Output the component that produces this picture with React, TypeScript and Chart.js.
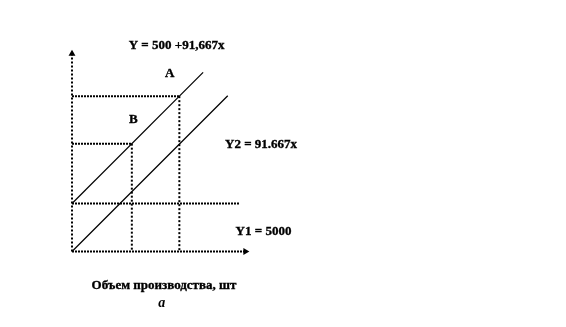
import React, { useEffect, useRef } from "react";
import { Chart, registerables } from "chart.js";

Chart.register(...registerables);

// ---- data ----
const fixedCost = 5000; // Y1
const unitCost = 91.667; // Y2 slope
const pointNames = ["B", "A"];
const pointVolumes = [68, 122];
const pointCosts = [11233, 16183];
const totalLineX = [0, 149];
const totalLineY = [5000, 18658];
const variableLineX = [0, 177];
const variableLineY = [0, 16225];
const fixedLineX = [0, 190];
const axisXEnd = 197;
const axisYEnd = 20600;
const xRange = [0, 210];
const yRange = [0, 22000];

// text labels (data coordinates)
const labelTexts = [
  "Y = 500 +91,667x",
  "A",
  "B",
  "Y2 = 91.667x",
  "Y1 = 5000",
  "Объем производства, шт",
  "а",
];
const labelX = [118.8, 111, 69.7, 214.8, 217.6, 104.5, 102];
const labelY = [21406, 18562, 13698, 11094, 2062, -3594, -5365];
const labelItalic = [false, false, false, false, false, false, true];

const BLACK = "#000000";

const labelsPlugin = {
  id: "labelsPlugin",
  afterDatasetsDraw(chart: any) {
    const { ctx, scales } = chart;
    ctx.save();
    ctx.fillStyle = BLACK;
    ctx.strokeStyle = BLACK;
    ctx.lineWidth = 0.35;
    ctx.textAlign = "center";
    ctx.textBaseline = "middle";
    labelTexts.forEach((t, i) => {
      ctx.font = labelItalic[i]
        ? 'italic bold 14px "Liberation Serif"'
        : 'bold 13px "Liberation Serif"';
      const px = scales.x.getPixelForValue(labelX[i]);
      const py = scales.y.getPixelForValue(labelY[i]);
      ctx.fillText(t, px, py);
      if (!labelItalic[i]) ctx.strokeText(t, px, py);
    });
    ctx.restore();
  },
};

export default function App() {
  const ref = useRef<HTMLCanvasElement | null>(null);
  useEffect(() => {
    if (!ref.current) return;
    const pts = (xs: number[], ys: number[]) => xs.map((x, i) => ({ x, y: ys[i] }));
    const base = {
      borderColor: BLACK,
      backgroundColor: BLACK,
      pointRadius: 0,
      fill: false,
      tension: 0,
      clip: false as any,
    };
    const datasets: any[] = [
      {
        ...base,
        label: "axisY",
        data: pts([0, 0], [0, axisYEnd]),
        borderWidth: 2,
        borderDash: [2, 2],
        pointRadius: [0, 4],
        pointStyle: "triangle",
        pointBorderWidth: 0,
      },
      {
        ...base,
        label: "axisX",
        data: pts([0, axisXEnd], [0, 0]),
        borderWidth: 2,
        borderDash: [2, 1],
        pointRadius: [0, 4],
        pointStyle: "triangle",
        pointRotation: 90,
        pointBorderWidth: 0,
      },
      {
        ...base,
        label: "Y1",
        data: pts(fixedLineX, [fixedCost, fixedCost]),
        borderWidth: 2,
        borderDash: [2, 1],
      },
      {
        ...base,
        label: "Y",
        data: pts(totalLineX, totalLineY),
        borderWidth: 1.2,
      },
      {
        ...base,
        label: "Y2",
        data: pts(variableLineX, variableLineY),
        borderWidth: 1.2,
      },
    ];
    pointVolumes.forEach((v, i) => {
      datasets.push({
        ...base,
        label: pointNames[i] + "-h",
        data: pts([0, v], [pointCosts[i], pointCosts[i]]),
        borderWidth: 2,
        borderDash: [2, 1],
      });
      datasets.push({
        ...base,
        label: pointNames[i] + "-v",
        data: pts([v, v], [pointCosts[i], 0]),
        borderWidth: 2,
        borderDash: [2, 2],
      });
    });
    const chart = new Chart(ref.current, {
      type: "line",
      data: { datasets },
      options: {
        animation: false,
        responsive: false,
        maintainAspectRatio: false,
        layout: { padding: { left: 72, right: 309.2, top: 40.3, bottom: 75.5 } },
        plugins: { legend: { display: false }, tooltip: { enabled: false } },
        scales: {
          x: { type: "linear", min: xRange[0], max: xRange[1], display: false },
          y: { type: "linear", min: yRange[0], max: yRange[1], display: false },
        },
      },
      plugins: [labelsPlugin],
    });
    return () => chart.destroy();
  }, []);
  return (
    <div style={{ position: "absolute", left: 0, top: 0, width: 566, height: 327, background: "#fff" }}>
      <canvas ref={ref} width={566} height={327} />
    </div>
  );
}
